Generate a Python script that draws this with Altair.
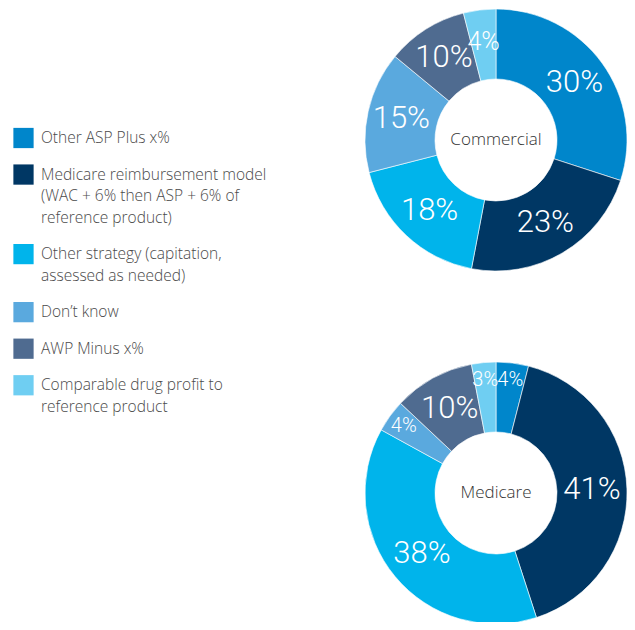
import altair as alt
import pandas as pd

# ---- data ----
categories = [
    "Other ASP Plus x%",
    "Medicare reimbursement model",
    "Other strategy",
    "Don't know",
    "AWP Minus x%",
    "Comparable drug profit",
]
legend_lines = [
    ["Other ASP Plus x%"],
    ["Medicare reimbursement model", "(WAC + 6% then ASP + 6% of", "reference product)"],
    ["Other strategy (capitation,", "\u00a0assessed as needed)"],
    ["Don\u2019t know"],
    ["AWP Minus x%"],
    ["Comparable drug profit to", "\u00a0reference product"],
]
commercial_values = [30, 23, 18, 15, 10, 4]
medicare_values = [4, 41, 38, 4, 10, 3]
colors = ["#0086CB", "#003764", "#00B4EB", "#5AA9DE", "#4F6B90", "#6FCEF2"]
panels = ["Commercial", "Medicare"]

# ---- layout constants ----
W, H = 619, 614
CX = 488
CY = {"Commercial": 132, "Medicare": 485}
R_OUT, R_IN = 131, 61
LABEL_R = {"Commercial": (97, 99), "Medicare": (96, 114)}  # (normal, small slices)
SMALL_FS = {"Commercial": 25, "Medicare": 20}
LINE_H = 21.5
LEGEND_TOP = 130
GAP = 0.7
LABEL_FONT = "Roboto, 'DejaVu Sans Condensed', sans-serif"

rows = []
for i, c in enumerate(categories):
    rows.append({"panel": "Commercial", "cat": c, "idx": i, "value": commercial_values[i]})
    rows.append({"panel": "Medicare", "cat": c, "idx": i, "value": medicare_values[i]})
df = pd.DataFrame(rows)
df["label"] = df["value"].astype(str) + "%"

leg_rows = []
u = 0.0
for i, (c, lines) in enumerate(zip(categories, legend_lines)):
    for j, t in enumerate(lines):
        leg_rows.append({"cat": c, "idx": i, "line": j, "text": t, "pos": u + j})
    u += len(lines) + GAP
leg = pd.DataFrame(leg_rows)
sq = leg[leg["line"] == 0]

color_scale = alt.Scale(domain=categories, range=colors)
y_scale = alt.Scale(domain=[-LEGEND_TOP / LINE_H, (H - LEGEND_TOP) / LINE_H], range=[0, H], zero=False, nice=False)
theta_scale = alt.Scale(domain=[0, 100])

arc_layers = []
label_layers = []
for p in panels:
    base = alt.Chart(df).transform_filter(alt.datum.panel == p)
    arcs = base.mark_arc(outerRadius=R_OUT, innerRadius=R_IN, stroke="white", strokeWidth=0.6).encode(
        theta=alt.Theta("value:Q", stack=True, scale=theta_scale),
        color=alt.Color("cat:N", scale=color_scale, legend=None),
        order=alt.Order("idx:Q"),
        x=alt.value(CX),
        y=alt.value(CY[p]),
    )
    arc_layers.append(arcs)
    mids = base.transform_window(
        cum="sum(value)", sort=[alt.SortField("idx")], frame=[None, 0]
    ).transform_calculate(mid="datum.cum - datum.value / 2")
    r_norm, r_small = LABEL_R[p]
    for is_small, rr, fs in [(False, r_norm, 31), (True, r_small, SMALL_FS[p])]:
        cond = (alt.datum.value < 5) if is_small else (alt.datum.value >= 5)
        labels = mids.transform_filter(cond).mark_text(
            radius=rr, fontSize=fs, font=LABEL_FONT, fontWeight=300, color="white",
            align="center", baseline="middle",
        ).encode(
            theta=alt.Theta("mid:Q", stack=False, scale=theta_scale),
            text="label:N",
            x=alt.value(CX),
            y=alt.value(CY[p]),
        )
        label_layers.append(labels)
    center = alt.Chart(pd.DataFrame({"t": [p]})).mark_text(
        font="Open Sans", fontSize=17, fontWeight=300, color="#333333", align="center", baseline="middle",
    ).encode(text="t:N", x=alt.value(CX), y=alt.value(CY[p]))
    label_layers.append(center)

squares = alt.Chart(sq).mark_square(size=410, opacity=1).encode(
    x=alt.value(15.5),
    y=alt.Y("pos:Q", scale=y_scale, axis=None),
    color=alt.Color("cat:N", scale=color_scale, legend=None),
)
texts = alt.Chart(leg).mark_text(
    font="Open Sans", fontSize=15.5, fontWeight=300, color="#4a4a4a", align="left", baseline="middle",
).encode(
    x=alt.value(33),
    y=alt.Y("pos:Q", scale=y_scale, axis=None),
    text="text:N",
)

chart = alt.layer(squares, texts, *arc_layers, *label_layers).properties(
    width=W, height=H, padding=0, autosize="none"
).configure_view(stroke=None)

chart.save("out.html", embed_options={"renderer": "svg", "actions": False})
